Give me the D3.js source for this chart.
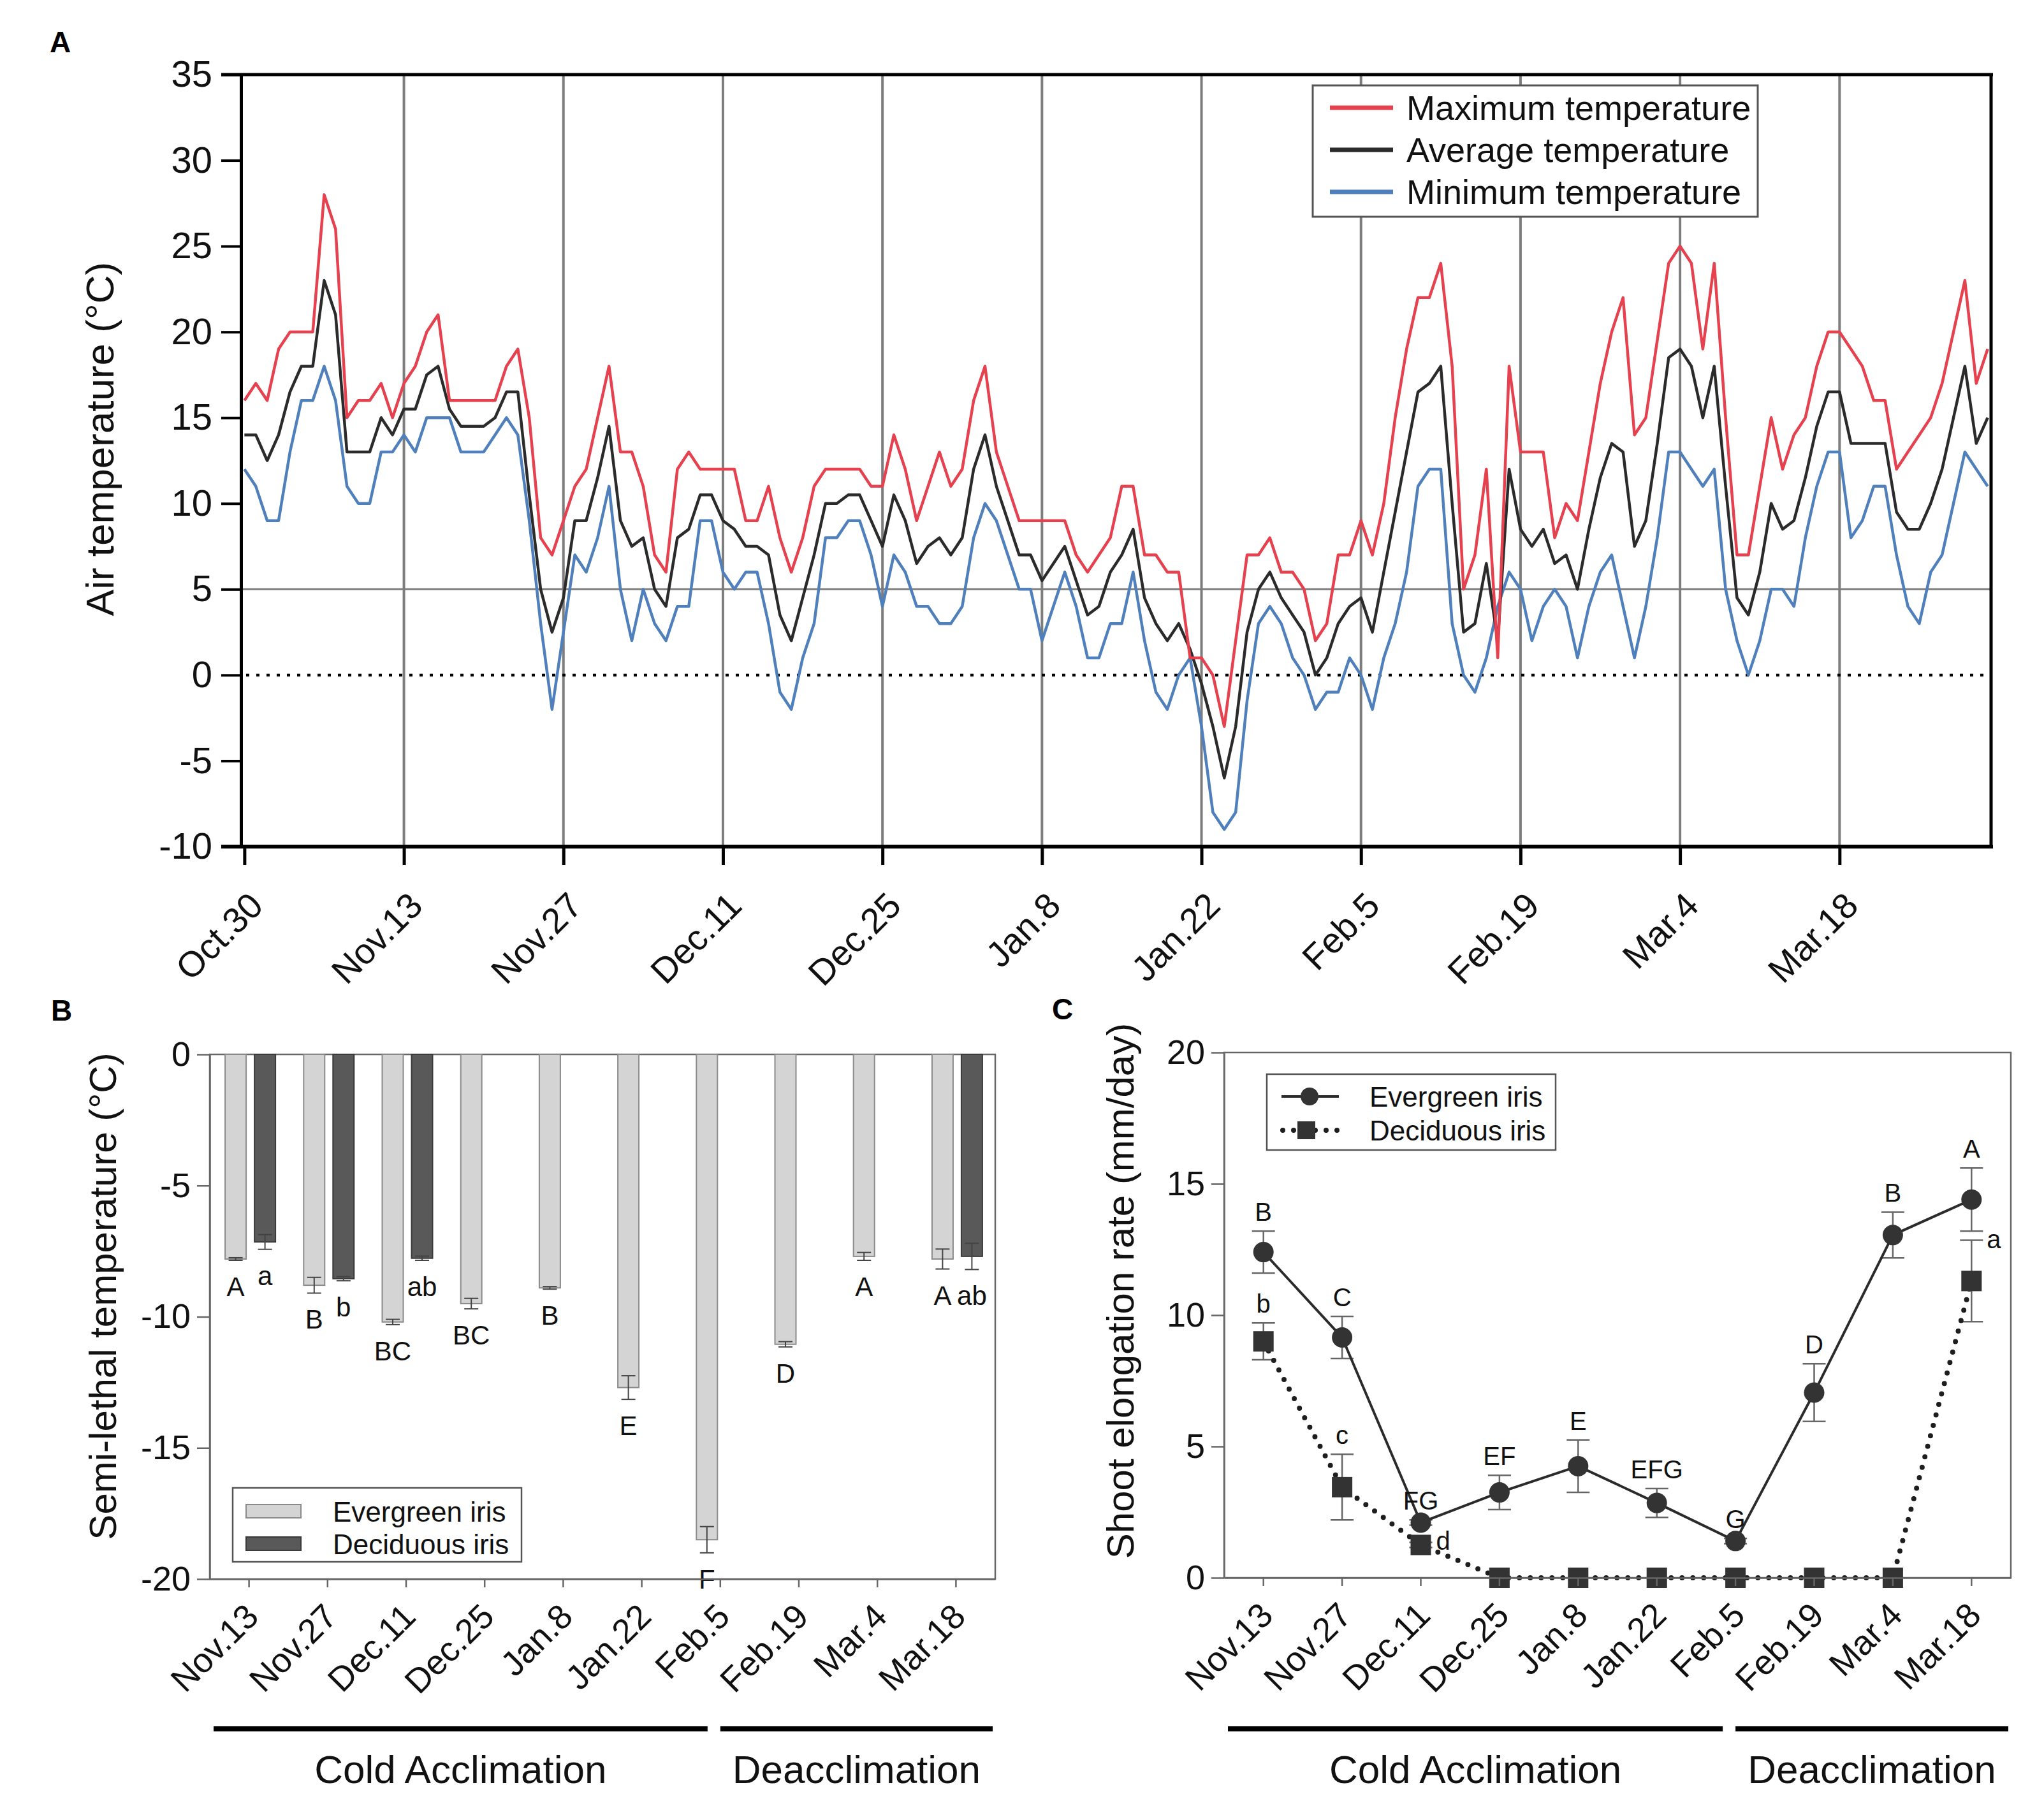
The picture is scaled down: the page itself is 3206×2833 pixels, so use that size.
<!DOCTYPE html>
<html><head><meta charset="utf-8">
<script src="https://cdn.jsdelivr.net/npm/d3@7"></script>
<style>body{margin:0;background:#fff}svg{display:block}</style>
</head><body>
<script>
// ---------------- DATA ----------------
// Panel A : daily air temperature, day 0 = Oct.30
const tempTickLabels = ["Oct.30","Nov.13","Nov.27","Dec.11","Dec.25","Jan.8","Jan.22","Feb.5","Feb.19","Mar.4","Mar.18"];
const tempTickDays = [0,14,28,42,56,70,84,98,112,126,140];
const tempYTicks = [-10,-5,0,5,10,15,20,25,30,35];
const maxTemp = [16,17,16,19,20,20,20,28,26,15, 16,16,17,15,17,18,20,21,16,16,
  16,16,16,18,19,15,8,7,9,11, 12,15,18,13,13,11,7,6,12,13,
  12,12,12,12,9,9,11,8,6,8, 11,12,12,12,12,11,11,14,12,9,
  11,13,11,12,16,18,13,11,9,9, 9,9,9,7,6,7,8,11,11,7,
  7,6,6,1,1,0,-3,2,7,7, 8,6,6,5,2,3,7,7,9,7,
  10,15,19,22,22,24,18,5,7,12, 1,18,13,13,13,8,10,9,13,17,
  20,22,14,15,19.5,24,25,24,19,24, 15,7,7,11,15,12,14,15,18,20,
  20,19,18,16,16,12,13,14,15,17, 20,23,17,19];
const avgTemp = [14,14,12.5,14,16.5,18,18,23,21,13, 13,13,15,14,15.5,15.5,17.5,18,15.5,14.5,
  14.5,14.5,15,16.5,16.5,10.5,5,2.5,4.5,9, 9,11.5,14.5,9,7.5,8,5,4,8,8.5,
  10.5,10.5,9,8.5,7.5,7.5,7,3.5,2,4.5, 7,10,10,10.5,10.5,9,7.5,10.5,9,6.5,
  7.5,8,7,8,12,14,11,9,7,7, 5.5,6.5,7.5,5.5,3.5,4,6,7,8.5,4.5,
  3,2,3,1.5,-0.5,-3,-6,-3,2.5,5, 6,4.5,3.5,2.5,0,1,3,4,4.5,2.5,
  6,9.5,13,16.5,17,18,10,2.5,3,6.5, 2,12,8.5,7.5,8.5,6.5,7,5,8.5,11.5,
  13.5,13,7.5,9,13.5,18.5,19,18,15,18, 11,4.5,3.5,6,10,8.5,9,11.5,14.5,16.5,
  16.5,13.5,13.5,13.5,13.5,9.5,8.5,8.5,10,12, 15,18,13.5,15];
const minTemp = [12,11,9,9,13,16,16,18,16,11, 10,10,13,13,14,13,15,15,15,13,
  13,13,14,15,14,9,3,-2,2.5,7, 6,8,11,5,2,5,3,2,4,4,
  9,9,6,5,6,6,3,-1,-2,1, 3,8,8,9,9,7,4,7,6,4,
  4,3,3,4,8,10,9,7,5,5, 2,4,6,4,1,1,3,3,6,2,
  -1,-2,0,1,-3,-8,-9,-8,-1.5,3, 4,3,1,0,-2,-1,-1,1,0,-2,
  1,3,6,11,12,12,3,0,-1,1, 4,6,5,2,4,5,4,1,4,6,
  7,4,1,4,8,13,13,12,11,12, 5,2,0,2,5,5,4,8,11,13,
  13,8,9,11,11,7,4,3,6,7, 10,13,12,11];
const tempSeriesNames = ["Maximum temperature","Average temperature","Minimum temperature"];

// Panels B and C : sampling dates
const sampleDates = ["Nov.13","Nov.27","Dec.11","Dec.25","Jan.8","Jan.22","Feb.5","Feb.19","Mar.4","Mar.18"];
const irisNames = ["Evergreen iris","Deciduous iris"];
const periodNames = ["Cold Acclimation","Deacclimation"];
const periodSplit = "Feb.5";

// Panel B : semi-lethal temperature (LT50)
const ltTicks = [0,-5,-10,-15,-20];
const ltEvergreen = [-7.8,-8.8,-10.2,-9.5,-8.9,-12.7,-18.5,-11.05,-7.7,-7.8];
const ltEvergreenErr = [0.05,0.3,0.1,0.2,0.05,0.45,0.5,0.1,0.15,0.38];
const ltDeciduous = [-7.15,-8.55,-7.77,null,null,null,null,null,null,-7.7];
const ltDeciduousErr = [0.28,0.08,0.08,null,null,null,null,null,null,0.5];
const ltLettersEver = ["A","B","BC","BC","B","E","F","D","A","A"];
const ltLettersDec = ["a","b","ab",null,null,null,null,null,null,"ab"];

// Panel C : shoot elongation rate
const elTicks = [0,5,10,15,20];
const elEvergreen = [12.4,9.15,2.1,3.25,4.25,2.85,1.4,7.05,13.05,14.4];
const elEvergreenErr = [0.8,0.8,0.1,0.65,1.0,0.55,0.1,1.1,0.87,1.2];
const elDeciduous = [9.0,3.45,1.25,0,0,0,0,0,0,11.3];
const elDeciduousErr = [0.7,1.25,0.1,0,0,0,0,0,0,1.55];
const elLettersEver = ["B","C","FG","EF","E","EFG","G","D","B","A"];
const elLettersDec = ["b","c","d",null,null,null,null,null,null,"a"];
const elLettersDecSide = ["top","top","right",null,null,null,null,null,null,"right"];

// ---------------- DRAWING ----------------
const W = 3206, H = 2833;
const FONT = '"Liberation Sans", Arial, Helvetica, sans-serif';
const RED = "#e5414e", BLK = "#2b2b2b", BLU = "#5080bb";
const plain = d => String(d);
const svg = d3.select("body").append("svg").attr("width", W).attr("height", H)
  .style("font-family", FONT);
svg.append("rect").attr("width", W).attr("height", H).attr("fill", "#fff");

function styleAxis(g, fs, sw, dsw, col) {
  g.attr("font-size", null).attr("font-family", null);
  g.select(".domain").attr("stroke", col).attr("stroke-width", dsw);
  g.selectAll(".tick line").attr("stroke", col).attr("stroke-width", sw);
  g.selectAll(".tick text").attr("font-size", fs).attr("fill", "#111").style("font-family", FONT);
}

// ---------- Panel A ----------
const pA = {l: 378, r: 3123, t: 117, b: 1328};
const xA = d3.scaleLinear().domain([-0.3, 153.3]).range([pA.l, pA.r]);
const yA = d3.scaleLinear().domain([-10, 35]).range([pA.b, pA.t]);
const gA = svg.append("g");

gA.selectAll("line.vg").data(tempTickDays.slice(1)).join("line").attr("class", "vg")
  .attr("x1", d => xA(d)).attr("x2", d => xA(d)).attr("y1", pA.t).attr("y2", pA.b)
  .attr("stroke", "#7d7d7d").attr("stroke-width", 4);
gA.append("line").attr("x1", pA.l).attr("x2", pA.r).attr("y1", yA(5)).attr("y2", yA(5))
  .attr("stroke", "#7d7d7d").attr("stroke-width", 3);
gA.append("line").attr("x1", pA.l + 8).attr("x2", pA.r).attr("y1", yA(0)).attr("y2", yA(0))
  .attr("stroke", "#000").attr("stroke-width", 4.5).attr("stroke-dasharray", "5 11");

const lineA = d3.line().x((d, i) => xA(i)).y(d => yA(d));
const seriesA = [
  {vals: minTemp, color: BLU},
  {vals: avgTemp, color: BLK},
  {vals: maxTemp, color: RED}
];
gA.selectAll("path.ser").data(seriesA).join("path").attr("class", "ser")
  .attr("d", d => lineA(d.vals)).attr("fill", "none").attr("stroke", d => d.color)
  .attr("stroke-width", 4.5).attr("stroke-linejoin", "round");

// frame top/right
gA.append("line").attr("x1", pA.l - 31).attr("x2", pA.r + 3).attr("y1", pA.t).attr("y2", pA.t)
  .attr("stroke", "#000").attr("stroke-width", 5);
gA.append("line").attr("x1", pA.r).attr("x2", pA.r).attr("y1", pA.t).attr("y2", pA.b)
  .attr("stroke", "#000").attr("stroke-width", 5);

const axAL = gA.append("g").attr("transform", `translate(${pA.l},0)`)
  .call(d3.axisLeft(yA).tickValues(tempYTicks).tickFormat(plain).tickSize(31).tickSizeOuter(0).tickPadding(14));
styleAxis(axAL, 58, 4, 5, "#000");
const axAB = gA.append("g").attr("transform", `translate(0,${pA.b})`)
  .call(d3.axisBottom(xA).tickValues(tempTickDays).tickFormat((d, i) => tempTickLabels[i]).tickSize(29).tickSizeOuter(0));
styleAxis(axAB, 56, 5, 6, "#000");
axAB.select(".domain").attr("d", `M${pA.l - 31},0H${pA.r + 3}`);
axAB.selectAll(".tick text").attr("text-anchor", "end").attr("x", 0).attr("y", 0).attr("dy", 0)
  .attr("transform", "translate(32,96) rotate(-45)");

// y title
svg.append("text").attr("transform", `translate(178,${(pA.t + pA.b) / 2 - 34}) rotate(-90)`)
  .attr("text-anchor", "middle").attr("font-size", 62).attr("fill", "#111").text("Air temperature (°C)");
svg.append("text").attr("x", 78).attr("y", 82).attr("font-size", 46).attr("font-weight", "bold").text("A");

// legend A
const legA = svg.append("g");
legA.append("rect").attr("x", 2059).attr("y", 134).attr("width", 698).attr("height", 206)
  .attr("fill", "#fff").attr("stroke", "#555").attr("stroke-width", 3);
const legCols = [RED, BLK, BLU];
tempSeriesNames.forEach((n, i) => {
  const y = 169 + i * 66;
  legA.append("line").attr("x1", 2086).attr("x2", 2185).attr("y1", y).attr("y2", y)
    .attr("stroke", legCols[i]).attr("stroke-width", 7);
  legA.append("text").attr("x", 2206).attr("y", y + 19).attr("font-size", 54).attr("fill", "#111").text(n);
});

// ---------- shared helpers for B & C ----------
function periodBars(g, x, left, right, yBar, yText) {
  const split = x(periodSplit) + x.bandwidth() / 2;
  const segs = [[left + 6, split - 20], [split, right - 4]];
  segs.forEach((s, i) => {
    g.append("line").attr("x1", s[0]).attr("x2", s[1]).attr("y1", yBar).attr("y2", yBar)
      .attr("stroke", "#000").attr("stroke-width", 8);
    g.append("text").attr("x", (s[0] + s[1]) / 2).attr("y", yText).attr("text-anchor", "middle")
      .attr("font-size", 62).attr("fill", "#111").text(periodNames[i]);
  });
}

// ---------- Panel B ----------
const pB = {l: 329, r: 1561, t: 1654, b: 2477};
const xB = d3.scaleBand().domain(sampleDates).range([pB.l, pB.r]).padding(0);
const cB = d => xB(d) + xB.bandwidth() / 2;
const yB = d3.scaleLinear().domain([-20, 0]).range([pB.b, pB.t]);
const gB = svg.append("g");
const GRAY = "#666";

gB.append("rect").attr("x", pB.l).attr("y", pB.t).attr("width", pB.r - pB.l).attr("height", pB.b - pB.t)
  .attr("fill", "none").attr("stroke", GRAY).attr("stroke-width", 2.5);

const bw = 33;
const evB = sampleDates.map((d, i) => ({d, v: ltEvergreen[i], e: ltEvergreenErr[i], L: ltLettersEver[i], cx: cB(d) - 21}));
const dcB = sampleDates.map((d, i) => ({d, v: ltDeciduous[i], e: ltDeciduousErr[i], L: ltLettersDec[i], cx: cB(d) + 25})).filter(o => o.v != null);

function drawBars(data, fill, stroke) {
  gB.selectAll(null).data(data).join("rect")
    .attr("x", o => o.cx - bw / 2).attr("width", bw)
    .attr("y", yB(0)).attr("height", o => yB(o.v) - yB(0))
    .attr("fill", fill).attr("stroke", stroke).attr("stroke-width", 2);
  const eg = gB.selectAll(null).data(data).join("g").attr("stroke", "#444").attr("stroke-width", 2);
  eg.append("line").attr("x1", o => o.cx).attr("x2", o => o.cx).attr("y1", o => yB(o.v - o.e)).attr("y2", o => yB(o.v + o.e));
  eg.append("line").attr("x1", o => o.cx - 11).attr("x2", o => o.cx + 11).attr("y1", o => yB(o.v - o.e)).attr("y2", o => yB(o.v - o.e));
  eg.append("line").attr("x1", o => o.cx - 11).attr("x2", o => o.cx + 11).attr("y1", o => yB(o.v + o.e)).attr("y2", o => yB(o.v + o.e));
  gB.selectAll(null).data(data.filter(o => o.L)).join("text")
    .attr("x", o => o.cx).attr("y", o => yB(o.v - o.e) + 56).attr("text-anchor", "middle")
    .attr("font-size", 42).attr("fill", "#111").text(o => o.L);
}
drawBars(evB, "#d4d4d4", "#8a8a8a");
drawBars(dcB, "#595959", "#3a3a3a");

const axBL = gB.append("g").attr("transform", `translate(${pB.l},0)`)
  .call(d3.axisLeft(yB).tickValues(ltTicks).tickFormat(plain).tickSize(20).tickSizeOuter(0).tickPadding(10));
styleAxis(axBL, 54, 2.5, 2.5, GRAY);
const axBB = gB.append("g").attr("transform", `translate(0,${pB.b})`)
  .call(d3.axisBottom(xB).tickSize(13).tickSizeOuter(0));
styleAxis(axBB, 54, 2.5, 2.5, GRAY);
axBB.selectAll(".tick text").attr("text-anchor", "end").attr("x", 0).attr("y", 0).attr("dy", 0)
  .attr("transform", "translate(18,62) rotate(-45)");

svg.append("text").attr("transform", `translate(182,${(pB.t + pB.b) / 2 - 32}) rotate(-90)`)
  .attr("text-anchor", "middle").attr("font-size", 60).attr("fill", "#111").text("Semi-lethal temperature (°C)");
svg.append("text").attr("x", 80).attr("y", 1601).attr("font-size", 46).attr("font-weight", "bold").text("B");

// legend B
const legB = gB.append("g");
legB.append("rect").attr("x", 365).attr("y", 2334).attr("width", 453).attr("height", 116)
  .attr("fill", "#fff").attr("stroke", "#555").attr("stroke-width", 2.5);
[["#d4d4d4", "#8a8a8a"], ["#595959", "#3a3a3a"]].forEach((c, i) => {
  const y = 2360 + i * 51;
  legB.append("rect").attr("x", 386).attr("y", y).attr("width", 86).attr("height", 21)
    .attr("fill", c[0]).attr("stroke", c[1]).attr("stroke-width", 2);
  legB.append("text").attr("x", 522).attr("y", y + 27).attr("font-size", 44).attr("fill", "#111").text(irisNames[i]);
});
periodBars(gB, xB, pB.l, pB.r, 2712, 2797);

// ---------- Panel C ----------
const pC = {l: 1920, r: 3154, t: 1651, b: 2475};
const xC = d3.scaleBand().domain(sampleDates).range([pC.l, pC.r]).padding(0);
const cC = d => xC(d) + xC.bandwidth() / 2;
const yC = d3.scaleLinear().domain([0, 20]).range([pC.b, pC.t]);
const gC = svg.append("g");
gC.append("rect").attr("x", pC.l).attr("y", pC.t).attr("width", pC.r - pC.l).attr("height", pC.b - pC.t)
  .attr("fill", "none").attr("stroke", GRAY).attr("stroke-width", 2.5);

const evC = sampleDates.map((d, i) => ({d, v: elEvergreen[i], e: elEvergreenErr[i], L: elLettersEver[i]}));
const dcC = sampleDates.map((d, i) => ({d, v: elDeciduous[i], e: elDeciduousErr[i], L: elLettersDec[i], side: elLettersDecSide[i]}));
const lineC = d3.line().x(o => cC(o.d)).y(o => yC(o.v));

// error bars
function errBars(data) {
  const eg = gC.selectAll(null).data(data.filter(o => o.e > 0)).join("g").attr("stroke", "#666").attr("stroke-width", 2.5);
  eg.append("line").attr("x1", o => cC(o.d)).attr("x2", o => cC(o.d)).attr("y1", o => yC(o.v - o.e)).attr("y2", o => yC(o.v + o.e));
  eg.append("line").attr("x1", o => cC(o.d) - 18).attr("x2", o => cC(o.d) + 18).attr("y1", o => yC(o.v - o.e)).attr("y2", o => yC(o.v - o.e));
  eg.append("line").attr("x1", o => cC(o.d) - 18).attr("x2", o => cC(o.d) + 18).attr("y1", o => yC(o.v + o.e)).attr("y2", o => yC(o.v + o.e));
}
errBars(dcC);
errBars(evC);
gC.append("path").attr("d", lineC(dcC)).attr("fill", "none").attr("stroke", "#1e1e1e")
  .attr("stroke-width", 8).attr("stroke-linecap", "round").attr("stroke-dasharray", "0 17");
gC.append("path").attr("d", lineC(evC)).attr("fill", "none").attr("stroke", "#2b2b2b").attr("stroke-width", 4);
gC.selectAll(null).data(dcC).join("rect")
  .attr("x", o => cC(o.d) - 16).attr("y", o => yC(o.v) - 16).attr("width", 32).attr("height", 32).attr("fill", "#333");
gC.selectAll(null).data(evC).join("circle")
  .attr("cx", o => cC(o.d)).attr("cy", o => yC(o.v)).attr("r", 16).attr("fill", "#333");

gC.selectAll(null).data(evC).join("text")
  .attr("x", o => cC(o.d)).attr("y", o => yC(o.v + o.e) - 16).attr("text-anchor", "middle")
  .attr("font-size", 40).attr("fill", "#111").text(o => o.L);
gC.selectAll(null).data(dcC.filter(o => o.L)).join("text")
  .attr("x", o => o.side === "right" ? cC(o.d) + 24 : cC(o.d))
  .attr("y", o => o.side === "right" ? yC(o.v + o.e) + 12 : yC(o.v + o.e) - 16)
  .attr("text-anchor", o => o.side === "right" ? "start" : "middle")
  .attr("font-size", 40).attr("fill", "#111").text(o => o.L);

const axCL = gC.append("g").attr("transform", `translate(${pC.l},0)`)
  .call(d3.axisLeft(yC).tickValues(elTicks).tickFormat(plain).tickSize(20).tickSizeOuter(0).tickPadding(10));
styleAxis(axCL, 54, 2.5, 2.5, GRAY);
const axCB = gC.append("g").attr("transform", `translate(0,${pC.b})`)
  .call(d3.axisBottom(xC).tickSize(13).tickSizeOuter(0));
styleAxis(axCB, 54, 2.5, 2.5, GRAY);
axCB.selectAll(".tick text").attr("text-anchor", "end").attr("x", 0).attr("y", 0).attr("dy", 0)
  .attr("transform", "translate(18,62) rotate(-45)");

svg.append("text").attr("transform", `translate(1778,${(pC.t + pC.b) / 2 - 38}) rotate(-90)`)
  .attr("text-anchor", "middle").attr("font-size", 60).attr("fill", "#111").text("Shoot elongation rate (mm/day)");
svg.append("text").attr("x", 1650).attr("y", 1599).attr("font-size", 46).attr("font-weight", "bold").text("C");

// legend C
const legC = gC.append("g");
legC.append("rect").attr("x", 1987).attr("y", 1685).attr("width", 453).attr("height", 119)
  .attr("fill", "#fff").attr("stroke", "#555").attr("stroke-width", 2.5);
legC.append("line").attr("x1", 2010).attr("x2", 2100).attr("y1", 1720).attr("y2", 1720).attr("stroke", "#2b2b2b").attr("stroke-width", 4);
legC.append("circle").attr("cx", 2054).attr("cy", 1720).attr("r", 14).attr("fill", "#333");
legC.append("line").attr("x1", 2012).attr("x2", 2098).attr("y1", 1773).attr("y2", 1773).attr("stroke", "#1e1e1e")
  .attr("stroke-width", 8).attr("stroke-linecap", "round").attr("stroke-dasharray", "0 17");
legC.append("rect").attr("x", 2035).attr("y", 1759).attr("width", 28).attr("height", 28).attr("fill", "#333");
irisNames.forEach((n, i) => {
  legC.append("text").attr("x", 2148).attr("y", 1736 + i * 53).attr("font-size", 44).attr("fill", "#111").text(n);
});
periodBars(gC, xC, pC.l, pC.r, 2712, 2797);
</script>
</body></html>
